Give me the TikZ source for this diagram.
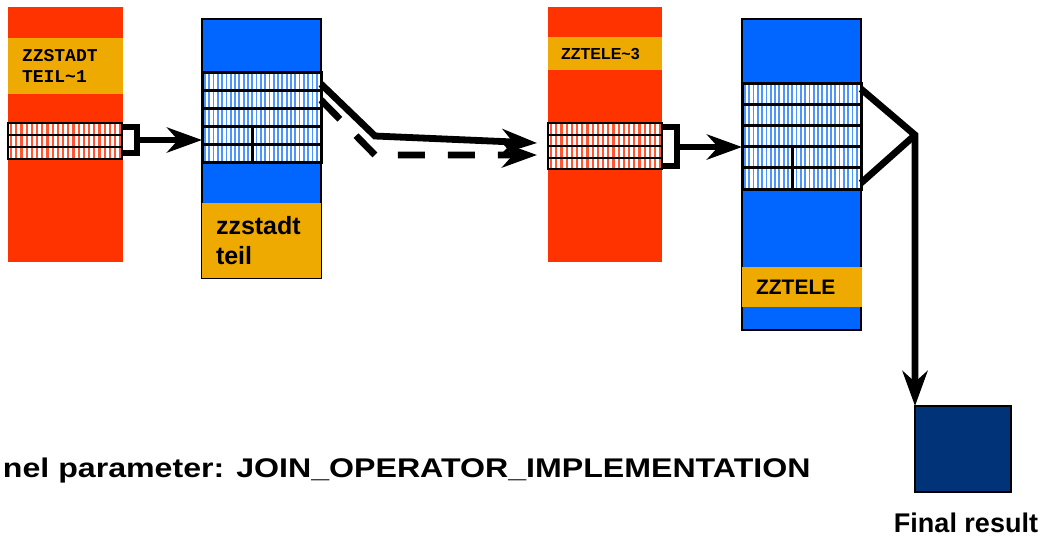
\documentclass[tikz,border=0pt]{standalone}
\usepackage{fontspec}
\setmainfont{Liberation Sans}
\newfontfamily\monob{Liberation Mono}
\usetikzlibrary{arrows.meta}
\definecolor{redbox}{HTML}{FF3300}
\definecolor{orangeband}{HTML}{EEAA00}
\definecolor{bluebox}{HTML}{0066FF}
\definecolor{navy}{HTML}{003377}
\definecolor{redstripe}{HTML}{FF5533}
\definecolor{bluestripe}{HTML}{4D94FF}
\begin{document}
\begin{tikzpicture}[x=0.5pt,y=-0.5pt, inner sep=0pt, outer sep=0pt,
  sz/.style 2 args={minimum width=#1*0.5pt,minimum height=#2*0.5pt,anchor=north west},
  redblk/.style={fill=redbox},
  band/.style={fill=orangeband},
  blublk/.style={fill=bluebox,draw=black,line width=0.6pt},
  bigtip/.style={-{Stealth[length=17.5pt,width=12.5pt,inset=5.5pt]}},
  conn/.style={line width=3.4pt,bigtip},
  brk/.style={line width=2.6pt},
  redrow/.style={draw=black,line width=1pt},
  bluerow/.style={draw=black,line width=1.5pt},
]
\useasboundingbox (0,0) rectangle (1049,538);

% ---------- red box 1 ----------
\node[redblk,sz={115}{255}] (r1) at (8,7) {};
\node[band,sz={115}{56},inner xsep=7pt,text width=43.5pt,align=left,
      font=\monob\bfseries\fontsize{9}{10.5}\selectfont] (o1) at (8,38) {ZZSTADT\\TEIL\textasciitilde1};
\fill[white] (8,123) rectangle (122,159);
\foreach \xx in {10,15.2,...,121} \fill[redstripe] (\xx,123) rectangle ++(2.1,36);
\node[redrow,sz={114}{36}] (rr1) at (8,123) {};
\draw[redrow] (8,135) -- (122,135) (8,147) -- (122,147);

% ---------- blue box 1 ----------
\node[blublk,sz={119}{259}] (b1) at (202,19) {};
\fill[white] (202,72) rectangle (321,162);
\foreach \xx in {204,208.3,...,320} \fill[bluestripe] (\xx,72) rectangle ++(1.8,90);
\node[bluerow,sz={119}{90}] (br1) at (202,72) {};
\draw[bluerow] (202,90) -- (321,90) (202,108) -- (321,108) (202,126) -- (321,126) (202,144) -- (321,144);
\draw[bluerow] (252,126) -- (252,162);
\node[band,sz={119}{75},inner xsep=7pt,text width=45.5pt,align=left,
      font=\bfseries\fontsize{12.5}{15}\selectfont] (ob1) at (202,203) {zzstadt\\teil};

% bracket + arrow 1
\draw[brk] (122,127) -- (137,127) -- (137,153) -- (122,153);
\coordinate (k1) at (137,140);
\draw[conn] (k1) -- (k1 -| b1.west);

% ---------- red box 2 ----------
\node[redblk,sz={114}{255}] (r2) at (548,7) {};
\node[band,sz={114}{33},inner xsep=6.5pt,text width=44pt,align=left,
      font=\bfseries\fontsize{8}{9.6}\selectfont] (o2) at (548,37) {ZZTELE\textasciitilde3};
\fill[white] (548,123) rectangle (662,169);
\foreach \xx in {550,555.2,...,661} \fill[redstripe] (\xx,123) rectangle ++(2.1,46);
\node[redrow,sz={114}{46}] (rr2) at (548,123) {};
\draw[redrow] (548,134.5) -- (662,134.5) (548,146) -- (662,146) (548,157.5) -- (662,157.5);

% connectors 1 -> 2
\coordinate (s1) at (321,84);
\coordinate (s2) at (375,136);
\coordinate (s3) at (537,143);
\coordinate (d1) at (321,100);
\coordinate (d2) at (375,155);
\coordinate (d3) at (537,155);
\draw[conn] (s1) -- (s2) -- (s3);
\draw[conn,dash pattern=on 13.5pt off 11.5pt] (d1) -- (d2) -- (d3);

% ---------- blue box 2 ----------
\node[blublk,sz={119}{311}] (b2) at (742,19) {};
\fill[white] (742,83) rectangle (861,189);
\foreach \xx in {744,748.3,...,860} \fill[bluestripe] (\xx,83) rectangle ++(1.8,106);
\node[bluerow,sz={119}{106}] (br2) at (742,83) {};
\draw[bluerow] (742,104.2) -- (861,104.2) (742,125.4) -- (861,125.4) (742,146.6) -- (861,146.6) (742,167.8) -- (861,167.8);
\draw[bluerow] (792,146.6) -- (792,189);
\node[band,sz={120}{40},inner xsep=7pt,text width=46pt,align=left,
      font=\bfseries\fontsize{10.5}{12.6}\selectfont] (ob2) at (742,267) {ZZTELE};

% bracket + arrow 2
\draw[brk] (662,127) -- (677,127) -- (677,166) -- (662,166);
\coordinate (k2) at (677,147);
\draw[conn] (k2) -- (k2 -| b2.west);

% ---------- final result ----------
\node[fill=navy,draw=black,line width=0.6pt,sz={96}{86}] (fin) at (915,406) {};
\node[anchor=base,font=\bfseries\fontsize{13.5}{16}\selectfont] (finlab) at (966,532) {Final result};

\coordinate (e1) at (861,89);
\coordinate (e2) at (861,183);
\coordinate (j) at (915,135);
\draw[line width=3.4pt] (e2) -- (j);
\draw[conn] (e1) -- (j) -- (fin.north west);

% ---------- parameter text ----------
\node[anchor=base west,xscale=1.19,font=\bfseries\fontsize{13.5}{16}\selectfont] (param) at (3,477)
  {nel parameter: JOIN\_OPERATOR\_IMPLEMENTATION};
\end{tikzpicture}
\end{document}
